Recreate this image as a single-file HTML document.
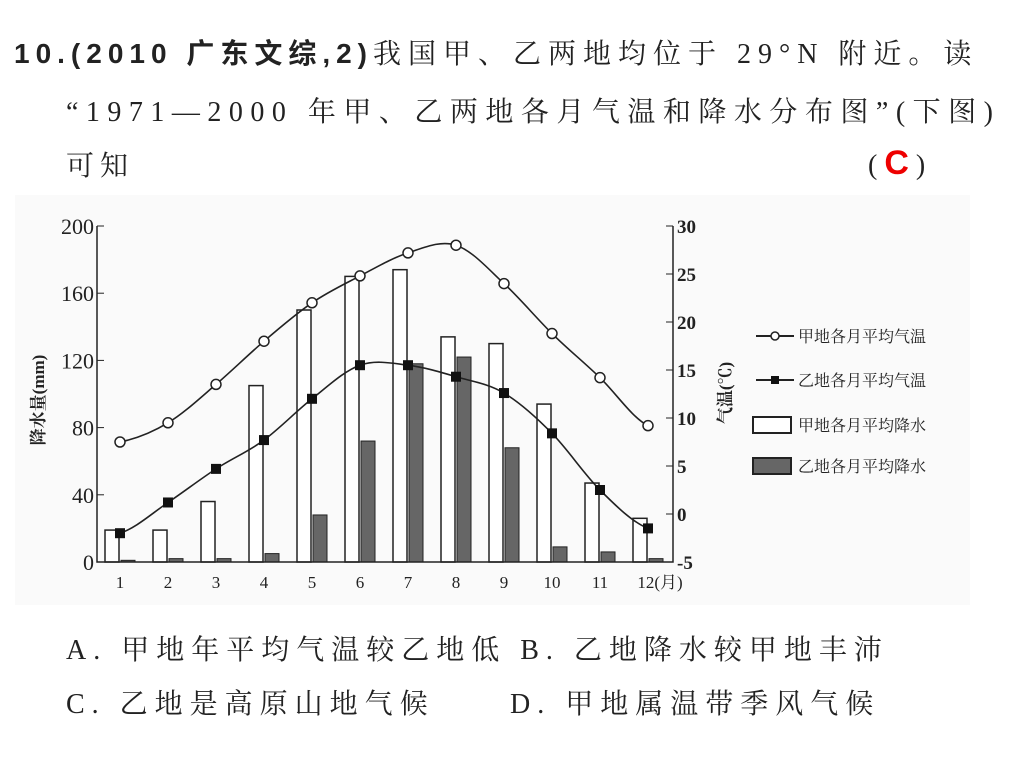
<!DOCTYPE html>
<html><head><meta charset="utf-8">
<style>
body{margin:0;width:1024px;height:768px;background:#fff;overflow:hidden;font-family:"Liberation Serif","Noto Serif CJK SC",serif;position:relative}
.t{position:absolute;font-size:28px;color:#222;white-space:nowrap}
</style></head><body>
<div class="t" style="left:14px;top:32px"><b style="font-family:'Liberation Sans','Noto Sans CJK SC',sans-serif;letter-spacing:6px">10.(2010 广东文综,2)</b><span style="letter-spacing:7px">我国甲、乙两地均位于 29°N 附近。读</span></div>
<div class="t" style="left:66px;top:90px;letter-spacing:7.5px">“1971—2000 年甲、乙两地各月气温和降水分布图”(下图)</div>
<div class="t" style="left:66px;top:144px;letter-spacing:6px">可知</div>
<div class="t" style="left:868px;top:144px">(  <span style="color:#e00;font-family:'Liberation Sans',sans-serif;font-weight:bold;font-size:34px">C</span>  )</div>
<div class="t" style="left:66px;top:628px;letter-spacing:7px">A. 甲地年平均气温较乙地低 B. 乙地降水较甲地丰沛</div>
<div class="t" style="left:66px;top:682px;letter-spacing:7px">C. 乙地是高原山地气候</div>
<div class="t" style="left:510px;top:682px;letter-spacing:7px">D. 甲地属温带季风气候</div>
<svg id="chart" width="1024" height="768" style="position:absolute;left:0;top:0" font-family="Liberation Serif, Noto Serif CJK SC, serif"></svg>
<script>
const months=["1","2","3","4","5","6","7","8","9","10","11","12"];
const precipA=[19,19,36,105,150,170,174,134,130,94,47,26];
const precipB=[1,2,2,5,28,72,118,122,68,9,6,2];
const tempA=[7.5,9.5,13.5,18,22,24.8,27.2,28,24,18.8,14.2,9.2];
const tempB=[-2,1.2,4.7,7.7,12,15.5,15.5,14.3,12.6,8.4,2.5,-1.5];
const pTicks=[0,40,80,120,160,200];
const tTicks=[-5,0,5,10,15,20,25,30];
const NS="http://www.w3.org/2000/svg";
const svg=document.getElementById('chart');
const X0=97,X1=673,Y0=562,Y1=226;
const xm=i=>120+i*(648-120)/11;
const yp=v=>Y0-(v/200)*(Y0-Y1);
const yt=v=>Y0-((v+5)/35)*(Y0-Y1);
function mk(tag,a,txt){const e=document.createElementNS(NS,tag);for(const k in a)e.setAttribute(k,a[k]);if(txt!=null)e.textContent=txt;svg.appendChild(e);return e;}
let bg=mk('rect',{x:15,y:195,width:955,height:410,fill:'#fafafa'});


months.forEach((m,i)=>{
 const x=xm(i);
 let a=mk('rect',{x:x-15,y:yp(precipA[i]),width:14,height:Y0-yp(precipA[i]),fill:'#fff',stroke:'#222','stroke-width':1.5});
 
 
 let b=mk('rect',{x:x+1,y:yp(precipB[i]),width:14,height:Y0-yp(precipB[i]),fill:'#666',stroke:'#222','stroke-width':1});
 
 
 let t=mk('text',{x:x,y:588,'font-size':17,'text-anchor':'middle',fill:'#222'},m+(i==11?'(月)':''));
 if(i==11)t.setAttribute('x',x+12);
 
 
});
function curve(arr,f){let d='';arr.forEach((v,i)=>{const x=xm(i),y=f(v);if(i==0)d='M'+x+','+y;else{const px=xm(i-1),py=f(arr[i-1]);const c=(x-px)/2;const ppy=i>1?f(arr[i-2]):py,ny=i<arr.length-1?f(arr[i+1]):y;d+=` C${px+c*0.66},${py+(y-ppy)/6} ${x-c*0.66},${y-(ny-py)/6} ${x},${y}`;}});return d;}
let la=mk('path',{d:curve(tempA,yt),fill:'none',stroke:'#222','stroke-width':1.6});


let lb=mk('path',{d:curve(tempB,yt),fill:'none',stroke:'#222','stroke-width':1.6});


tempA.forEach((v,i)=>{let c=mk('circle',{cx:xm(i),cy:yt(v),r:5,fill:'#fff',stroke:'#222','stroke-width':1.5});
 
 });
tempB.forEach((v,i)=>{let c=mk('rect',{x:xm(i)-5,y:yt(v)-5,width:10,height:10,fill:'#111'});
 
 });
let ax=mk('path',{d:`M${X0},${Y1}V${Y0}H${X1}V${Y1}`,fill:'none',stroke:'#222','stroke-width':1.5});


pTicks.forEach(v=>{mk('line',{x1:X0,x2:X0+7,y1:yp(v),y2:yp(v),stroke:'#222'});
 let t=mk('text',{x:X0-3,y:yp(v)+8,'font-size':22,'text-anchor':'end',fill:'#222'},v);
 
 });
tTicks.forEach(v=>{mk('line',{x1:X1-7,x2:X1,y1:yt(v),y2:yt(v),stroke:'#222'});
 let t=mk('text',{x:X1+4,y:yt(v)+7,'font-size':19,'font-weight':'bold',fill:'#222'},v);
 
 });
let yl=mk('text',{x:0,y:0,'font-size':17,'font-weight':'bold',fill:'#222','text-anchor':'middle',transform:'translate(44,400) rotate(-90)'},'降水量(mm)');


let yr=mk('text',{x:0,y:0,'font-size':17,'font-weight':'bold',fill:'#222','text-anchor':'middle',transform:'translate(731,393) rotate(-90)'},'气温(℃)');


const legY=[336,380,425,466];
const legT=['甲地各月平均气温','乙地各月平均气温','甲地各月平均降水','乙地各月平均降水'];
legT.forEach((s,i)=>{const y=legY[i];
 if(i<2){mk('line',{x1:756,x2:794,y1:y,y2:y,stroke:'#222','stroke-width':2});
  if(i==0)mk('circle',{cx:775,cy:y,r:4,fill:'#fff',stroke:'#222','stroke-width':1.5});else mk('rect',{x:771,y:y-4,width:8,height:8,fill:'#111'});}
 else mk('rect',{x:753,y:y-8,width:38,height:16,fill:i==2?'#fff':'#666',stroke:'#222','stroke-width':2});
 let t=mk('text',{x:798,y:y+6,'font-size':16,fill:'#222'},s);
 
 });
</script>
</body></html>
